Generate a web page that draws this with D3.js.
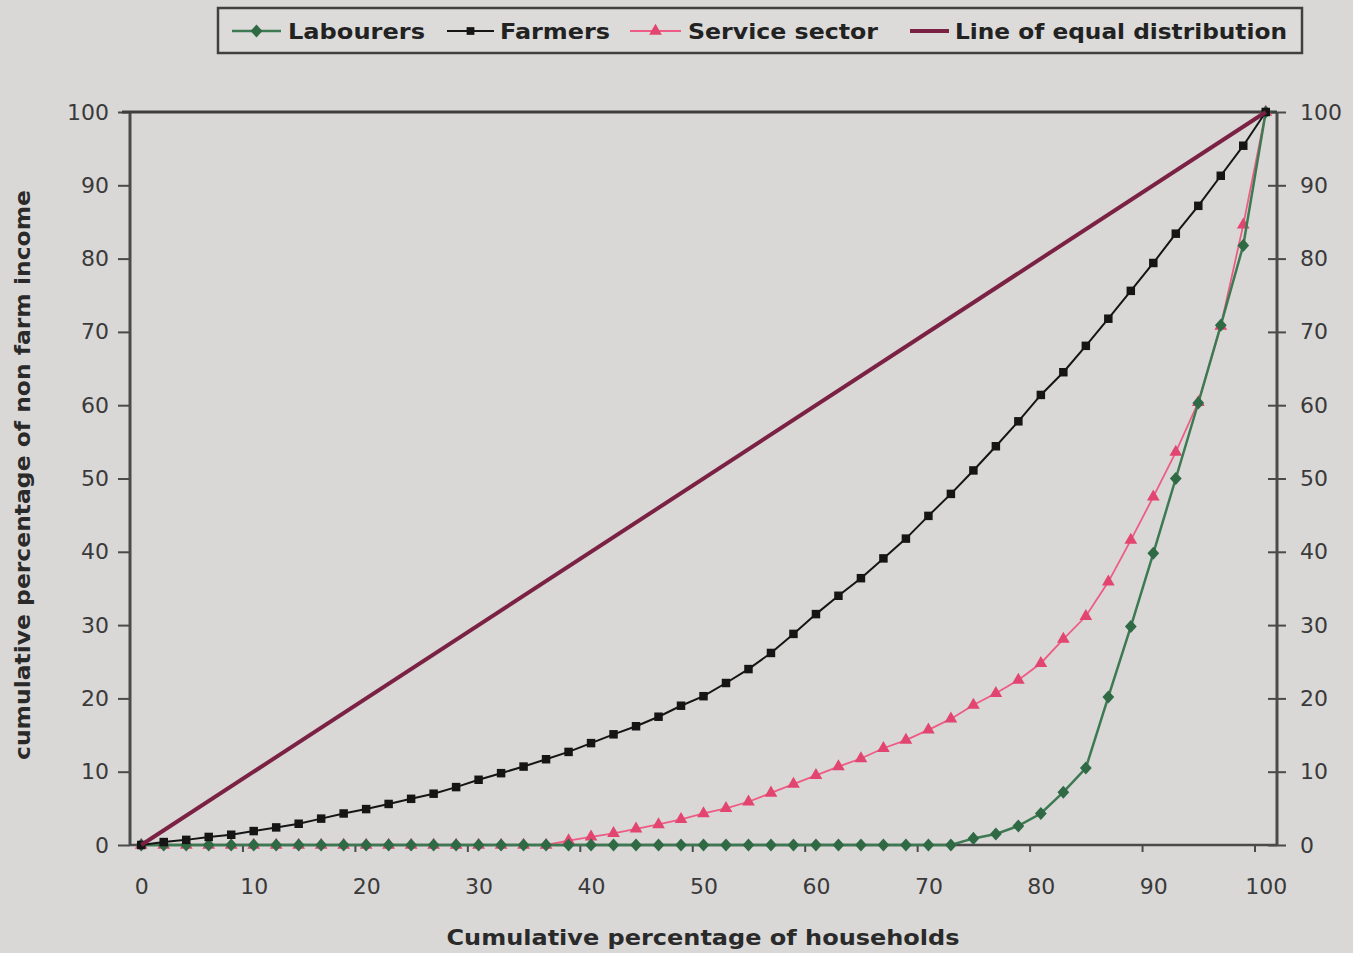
<!DOCTYPE html>
<html><head><meta charset="utf-8">
<script src="https://cdn.jsdelivr.net/npm/d3@7"></script>
<style>
html,body{margin:0;padding:0;background:#d9d8d7;}
svg{display:block;}
</style></head>
<body>
<svg id="chart" width="1353" height="953"></svg>
<script>
// ---- data ----
const households = [0,2,4,6,8,10,12,14,16,18,20,22,24,26,28,30,32,34,36,38,40,42,44,46,48,50,52,54,56,58,60,62,64,66,68,70,72,74,76,78,80,82,84,86,88,90,92,94,96,98,100];
const labourers = [0,0,0,0,0,0,0,0,0,0,0,0,0,0,0,0,0,0,0,0,0,0,0,0,0,0,0,0,0,0,0,0,0,0,0,0,0,0.9,1.5,2.6,4.3,7.2,10.5,20.2,29.8,39.8,50,60.3,70.9,81.8,100];
const farmers = [0,0.4,0.7,1.1,1.4,1.9,2.4,2.9,3.6,4.3,4.9,5.6,6.3,7.0,7.9,8.9,9.8,10.7,11.7,12.7,13.9,15.1,16.2,17.5,19.0,20.3,22.1,24.0,26.2,28.8,31.5,34.0,36.4,39.1,41.8,44.9,47.9,51.1,54.4,57.8,61.4,64.5,68.1,71.8,75.6,79.4,83.4,87.2,91.3,95.4,100];
const serviceSector = [0,0,0,0,0,0,0,0,0,0,0,0,0,0,0,0,0,0,0,0.6,1.1,1.6,2.2,2.8,3.5,4.3,5.0,5.9,7.1,8.3,9.5,10.7,11.8,13.2,14.3,15.7,17.2,19.1,20.7,22.5,24.8,28.1,31.2,35.9,41.6,47.5,53.6,60.4,70.8,84.6,100];
const equalX = [0,100];
const equalY = [0,100];
const seriesNames = ["Labourers","Farmers","Service sector","Line of equal distribution"];
const yTicks = [0,10,20,30,40,50,60,70,80,90,100];
const xLabels = [0,10,20,30,40,50,60,70,80,90,100];
const xTickMarks = [9,19,29,39,49,59,69,79,89,99];
const xTitle = "Cumulative percentage of households";
const yTitle = "cumulative percentage of non farm income";

// ---- layout ----
const svg = d3.select("#chart");
const W = 1353, H = 953;
const pL = 130, pR = 1277, pT = 112, pB = 845;
const x = d3.scaleLinear().domain([-1,101]).range([pL,pR]);
const y = d3.scaleLinear().domain([0,100]).range([pB,pT]);

const font = "'DejaVu Sans', Arial, sans-serif";
const C = {lab:"#3d7a52", labM:"#2f6a44", farm:"#151515", serv:"#ee5c85", servM:"#e2456f", eq:"#7b2244", axis:"#4a4a4a", text:"#3a3a3a"};

svg.append("rect").attr("width",W).attr("height",H).attr("fill","#d9d8d7");

// axes
const gL = svg.append("g").attr("transform",`translate(${pL},0)`)
  .call(d3.axisLeft(y).tickValues(yTicks).tickSize(12).tickPadding(9).tickFormat(d3.format("d")));
const gR = svg.append("g").attr("transform",`translate(${pR},0)`)
  .call(d3.axisRight(y).tickValues(yTicks).tickSize(9).tickPadding(14).tickFormat(d3.format("d")));
gR.selectAll(".tick line").attr("x1",-9);
const gB = svg.append("g").attr("transform",`translate(0,${pB})`)
  .call(d3.axisBottom(x).tickValues(xTickMarks).tickSize(7).tickFormat(""));
const gBL = svg.append("g").attr("transform",`translate(0,${pB})`)
  .call(d3.axisBottom(x).tickValues(xLabels).tickSize(0).tickPadding(33).tickFormat(d3.format("d")));
gBL.select(".domain").remove();

[gL,gR,gB,gBL].forEach(g=>{
  g.selectAll(".domain").attr("stroke",C.axis).attr("stroke-width",3);
  g.selectAll(".tick line").attr("stroke",C.axis).attr("stroke-width",2);
  g.selectAll("text").attr("font-family",font).attr("font-size",22).attr("fill",C.text);
});
gB.select(".domain").attr("stroke-width",2.5).attr("d",`M${pL},0H${pR}`);
gL.select(".domain").attr("d",`M0,${pB}V${pT}`);
gR.select(".domain").attr("d",`M0,${pB}V${pT}`);
// top border
svg.append("line").attr("x1",pL-8).attr("x2",pR).attr("y1",pT).attr("y2",pT)
  .attr("stroke","#3e3e3e").attr("stroke-width",3);

// series
const line = d3.line().x(d=>x(d[0])).y(d=>y(d[1]));
const labPts = households.map((h,i)=>[h,labourers[i]]);
const farmPts = households.map((h,i)=>[h,farmers[i]]);
const servPts = households.map((h,i)=>[h,serviceSector[i]]);
const eqPts = equalX.map((h,i)=>[h,equalY[i]]);

const plot = svg.append("g");
function drawSeries(pts, stroke, sw, markerType, mFill, mSize){
  plot.append("path").datum(pts).attr("d",line).attr("fill","none").attr("stroke",stroke).attr("stroke-width",sw);
  if(markerType){
    plot.append("g").selectAll("path").data(pts).join("path")
      .attr("transform",d=>`translate(${x(d[0])},${y(d[1])})`)
      .attr("d",d3.symbol().type(markerType).size(mSize))
      .attr("fill",mFill);
  }
}
const diamond = {draw(ctx,size){const r=Math.sqrt(size)/1.6;ctx.moveTo(0,-r);ctx.lineTo(r*0.9,0);ctx.lineTo(0,r);ctx.lineTo(-r*0.9,0);ctx.closePath();}};
drawSeries(servPts, C.serv, 1.8, d3.symbolTriangle, C.servM, 70);
drawSeries(labPts, C.lab, 2.5, diamond, C.labM, 110);
drawSeries(farmPts, C.farm, 2, d3.symbolSquare, C.farm, 72);
drawSeries(eqPts, C.eq, 4, null);

// legend
const lg = svg.append("g");
lg.append("rect").attr("x",218).attr("y",8).attr("width",1084).attr("height",45)
  .attr("fill","#dcdbda").attr("stroke","#404040").attr("stroke-width",2.5);
const legendItems = [
  {name:seriesNames[0], x0:232, x1:281, tx:288, tw:137, stroke:C.lab, sw:2.5, m:diamond, mf:C.labM, ms:110},
  {name:seriesNames[1], x0:447, x1:494, tx:500, tw:110, stroke:C.farm, sw:2, m:d3.symbolSquare, mf:C.farm, ms:60},
  {name:seriesNames[2], x0:630, x1:681, tx:688, tw:190, stroke:C.serv, sw:1.8, m:d3.symbolTriangle, mf:C.servM, ms:70},
  {name:seriesNames[3], x0:910, x1:949, tx:955, tw:332, stroke:C.eq, sw:4, m:null}
];
legendItems.forEach(it=>{
  const ly = 31;
  lg.append("line").attr("x1",it.x0).attr("x2",it.x1).attr("y1",ly).attr("y2",ly)
    .attr("stroke",it.stroke).attr("stroke-width",it.sw);
  if(it.m){
    lg.append("path").attr("transform",`translate(${(it.x0+it.x1)/2},${ly})`)
      .attr("d",d3.symbol().type(it.m).size(it.ms)).attr("fill",it.mf);
  }
  lg.append("text").attr("x",it.tx).attr("y",ly+8).text(it.name)
    .attr("font-family",font).attr("font-weight","bold").attr("font-size",22)
    .attr("fill","#222").attr("textLength",it.tw).attr("lengthAdjust","spacingAndGlyphs");
});

// titles
svg.append("text").attr("x",703).attr("y",945).attr("text-anchor","middle")
  .attr("font-family",font).attr("font-weight","bold").attr("font-size",21).attr("fill","#2a2a2a")
  .attr("textLength",513).attr("lengthAdjust","spacingAndGlyphs").text(xTitle);
svg.append("text").attr("transform","translate(30,475) rotate(-90)").attr("text-anchor","middle")
  .attr("font-family",font).attr("font-weight","bold").attr("font-size",21).attr("fill","#2a2a2a")
  .attr("textLength",570).attr("lengthAdjust","spacingAndGlyphs").text(yTitle);
</script>
</body></html>
